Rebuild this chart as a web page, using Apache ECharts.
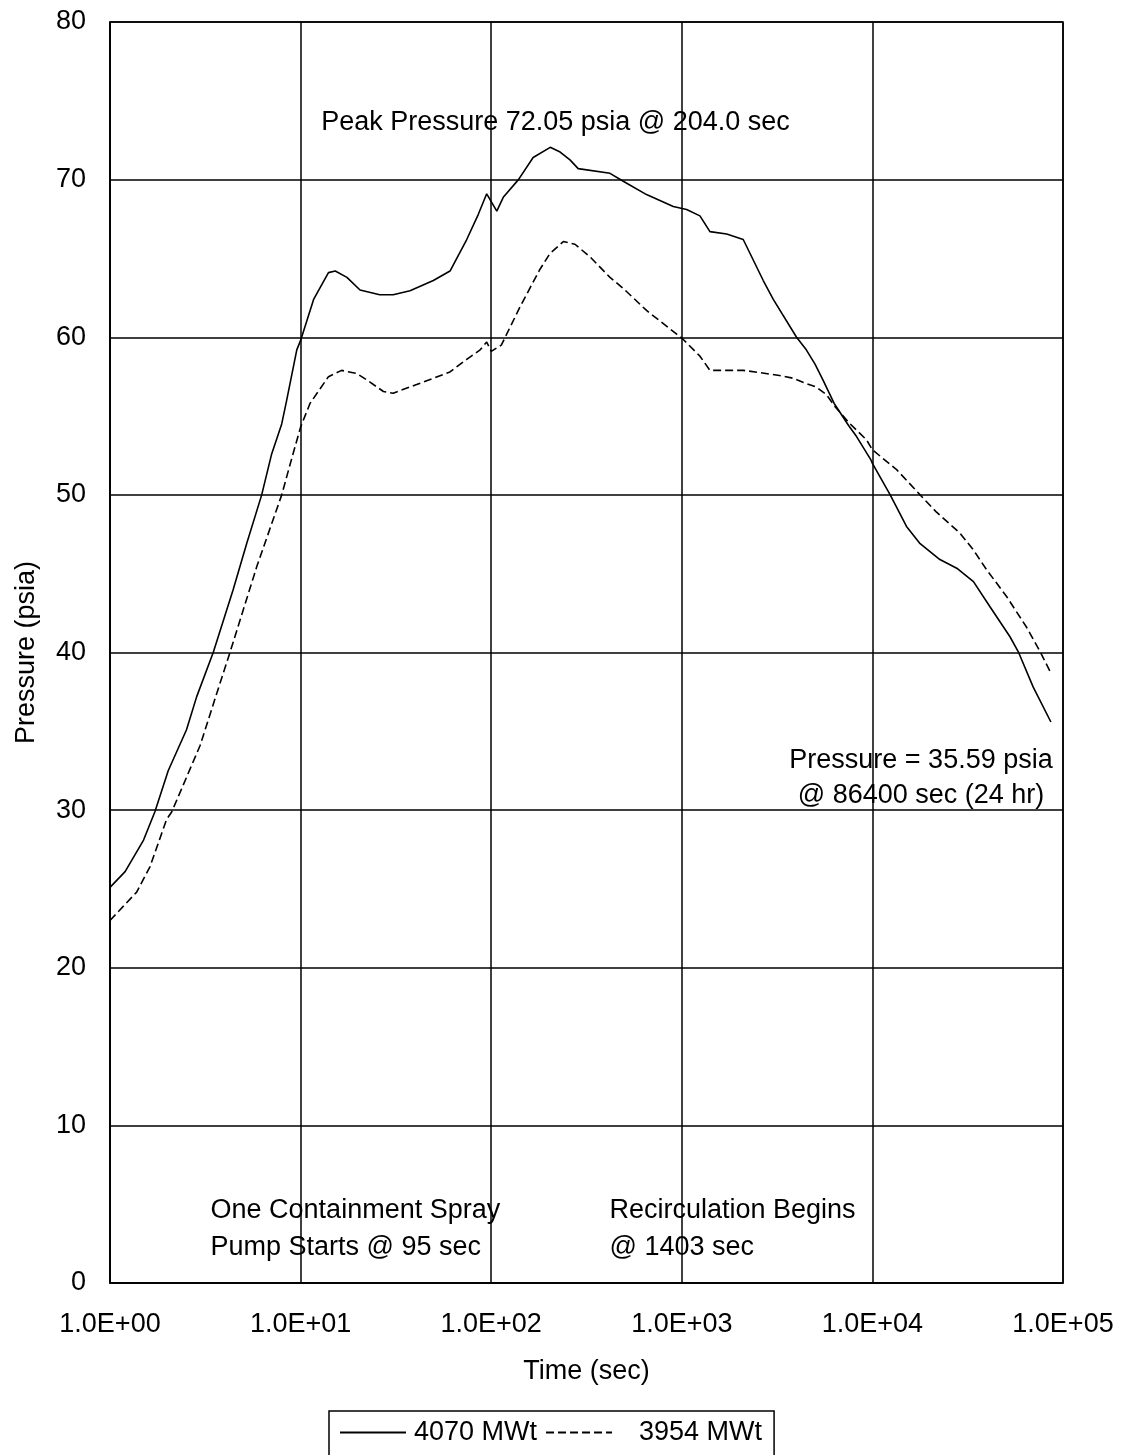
<!DOCTYPE html>
<html>
<head>
<meta charset="utf-8">
<title>Containment Pressure</title>
<script src="https://cdn.jsdelivr.net/npm/echarts@6/dist/echarts.min.js"></script>
<style>
  html, body { margin: 0; padding: 0; background: #fff; }
  #chart { width: 1122px; height: 1455px; }
</style>
</head>
<body>
<div id="chart"></div>
<script>
// Decade tick labels on the time axis
const xTickLabels = ['1.0E+00', '1.0E+01', '1.0E+02', '1.0E+03', '1.0E+04', '1.0E+05'];

// Series names
const seriesNames = ['4070 MWt', '3954 MWt'];

// Containment pressure, 4070 MWt case (time in sec, pressure in psia)
const time4070 = [1.0, 1.2, 1.5, 1.72, 2.02, 2.52, 2.85, 3.48, 4.43, 5.21, 6.25, 7.05, 7.96, 8.45, 9.55, 10,
  11.7, 14, 15.2, 17.5, 20.5, 26, 30.6, 37.5, 49.7, 60.8, 74.4, 85.6, 94.7, 107, 116, 139, 166, 204,
  230, 259, 286, 420, 493, 653, 902, 1060, 1245, 1405, 1720, 2100, 2675, 3020, 4000, 4500, 5000, 5500,
  6300, 7500, 8260, 9840, 10000, 12400, 15100, 17800, 22600, 27700, 33900, 41400, 52700, 58200, 69800, 86400];
const pres4070 = [25.1, 26.1, 28.1, 29.9, 32.5, 35.1, 37.2, 40.0, 44.0, 46.9, 50.0, 52.6, 54.5, 56.0, 59.2, 59.8,
  62.4, 64.1, 64.2, 63.8, 63.0, 62.7, 62.7, 62.95, 63.6, 64.2, 66.2, 67.8, 69.1, 68.0, 68.9, 70.0, 71.4, 72.05,
  71.75, 71.25, 70.7, 70.4, 69.9, 69.05, 68.3, 68.1, 67.7, 66.7, 66.55, 66.2, 63.6, 62.4, 60.0, 59.2, 58.3, 57.3,
  55.8, 54.4, 53.7, 52.2, 52.0, 50.0, 48.0, 46.9, 45.9, 45.35, 44.5, 42.9, 41.0, 40.06, 37.8, 35.59];

// Containment pressure, 3954 MWt case
const time3954 = [1.0, 1.38, 1.62, 1.98, 2.11, 2.97, 3.63, 4.26, 5.0, 5.89, 7.96, 8.98, 10, 11.2,
  14, 16.4, 19.7, 22.2, 27.2, 30.6, 40.6, 60.8, 74.4, 87.5, 94.7, 100, 113, 142, 180, 203, 239, 275,
  330, 420, 493, 653, 940, 1000, 1245, 1405, 1720, 2100, 2560, 3250, 3840, 4350, 5080, 5750, 6370,
  7500, 9300, 10000, 13400, 17800, 21700, 28800, 33900, 39800, 50600, 64400, 75800, 86400];
const pres3954 = [23.0, 24.8, 26.4, 29.4, 29.9, 34.1, 37.4, 40.0, 42.7, 45.45, 50.0, 52.3, 54.3, 55.8,
  57.5, 57.9, 57.7, 57.3, 56.56, 56.45, 57.0, 57.8, 58.6, 59.2, 59.7, 59.1, 59.5, 61.95, 64.3, 65.3, 66.07, 65.9,
  65.1, 63.8, 63.1, 61.7, 60.2, 59.95, 58.8, 57.9, 57.9, 57.9, 57.76, 57.57, 57.4, 57.13, 56.84, 56.35, 55.6,
  54.6, 53.5, 52.86, 51.6, 50.0, 48.9, 47.57, 46.5, 45.24, 43.55, 41.6, 40.06, 38.7];

const zip = (xs, ys) => xs.map((x, i) => [x, ys[i]]);

// Peak and end-of-day values quoted in the annotations
const peakIdx = pres4070.indexOf(Math.max(...pres4070));
const peakText = 'Peak Pressure ' + pres4070[peakIdx].toFixed(2) + ' psia @ ' + time4070[peakIdx].toFixed(1) + ' sec';
const lastIdx = pres4070.length - 1;
const endText = 'Pressure = ' + pres4070[lastIdx].toFixed(2) + ' psia\n@ ' + time4070[lastIdx] + ' sec (24 hr)';

const FONT = "'Liberation Sans', Arial, sans-serif";
const FS = 27;
const INK = '#000';

const chart = echarts.init(document.getElementById('chart'), null, { renderer: 'canvas' });

const noteLabel = (text, align, lineHeight) => ({
  show: true,
  position: [0, 0],
  formatter: text,
  align: align,
  verticalAlign: 'middle',
  fontFamily: FONT,
  fontSize: FS,
  lineHeight: lineHeight,
  color: INK
});

chart.setOption({
  animation: false,
  backgroundColor: '#fff',
  textStyle: { fontFamily: FONT },
  grid: {
    left: 110, right: 59, top: 22, bottom: 172,
    show: true, borderColor: INK, borderWidth: 1.5, backgroundColor: '#fff'
  },
  legend: {
    data: [
      { name: seriesNames[0] },
      { name: seriesNames[1], textStyle: { padding: [0, 0, 0, 22] } }
    ],
    left: 329, top: 1411,
    orient: 'horizontal',
    borderColor: INK, borderWidth: 1.5,
    padding: [8, 12, 20, 10],
    itemWidth: 66, itemHeight: 2, itemGap: 8,
    itemStyle: { opacity: 0 },
    textStyle: { fontFamily: FONT, fontSize: FS, color: INK, padding: [0, 0, 0, 3] }
  },
  xAxis: {
    type: 'log', logBase: 10, min: 1, max: 100000,
    axisLine: { show: true, lineStyle: { color: INK, width: 1.5 } },
    axisTick: { show: false },
    minorTick: { show: false },
    splitLine: { show: true, lineStyle: { color: INK, width: 1.5 } },
    axisLabel: {
      fontFamily: FONT, fontSize: FS, color: INK, margin: 28,
      formatter: v => xTickLabels[Math.round(Math.log10(v))]
    },
    name: 'Time (sec)', nameLocation: 'middle', nameGap: 75,
    nameTextStyle: { fontFamily: FONT, fontSize: FS, color: INK }
  },
  yAxis: {
    type: 'value', min: 0, max: 80, interval: 10,
    axisLine: { show: true, lineStyle: { color: INK, width: 1.5 } },
    axisTick: { show: false },
    splitLine: { show: true, lineStyle: { color: INK, width: 1.5 } },
    axisLabel: { fontFamily: FONT, fontSize: FS, color: INK, margin: 24 },
    name: 'Pressure (psia)', nameLocation: 'middle', nameGap: 70, nameRotate: 90,
    nameTextStyle: { fontFamily: FONT, fontSize: FS, color: INK }
  },
  series: [
    {
      name: seriesNames[0], type: 'line', data: zip(time4070, pres4070),
      symbol: 'none', smooth: false,
      lineStyle: { color: INK, width: 1.6, type: 'solid' },
      itemStyle: { color: INK },
      markPoint: {
        silent: true, animation: false,
        symbol: 'rect', symbolSize: 1,
        itemStyle: { color: 'rgba(0,0,0,0)' },
        data: [
          { coord: [12.9, 73.6], label: noteLabel(peakText, 'left', 32) },
          { coord: [18100, 32.0], label: noteLabel(endText, 'center', 35) },
          { coord: [3.39, 3.4], label: noteLabel('One Containment Spray\nPump Starts @ 95 sec', 'left', 37) },
          { coord: [420, 3.4], label: noteLabel('Recirculation Begins\n@ 1403 sec', 'left', 37) }
        ]
      }
    },
    {
      name: seriesNames[1], type: 'line', data: zip(time3954, pres3954),
      symbol: 'none', smooth: false,
      lineStyle: { color: INK, width: 1.6, type: [8, 4] },
      itemStyle: { color: INK }
    }
  ]
});
</script>
</body>
</html>
